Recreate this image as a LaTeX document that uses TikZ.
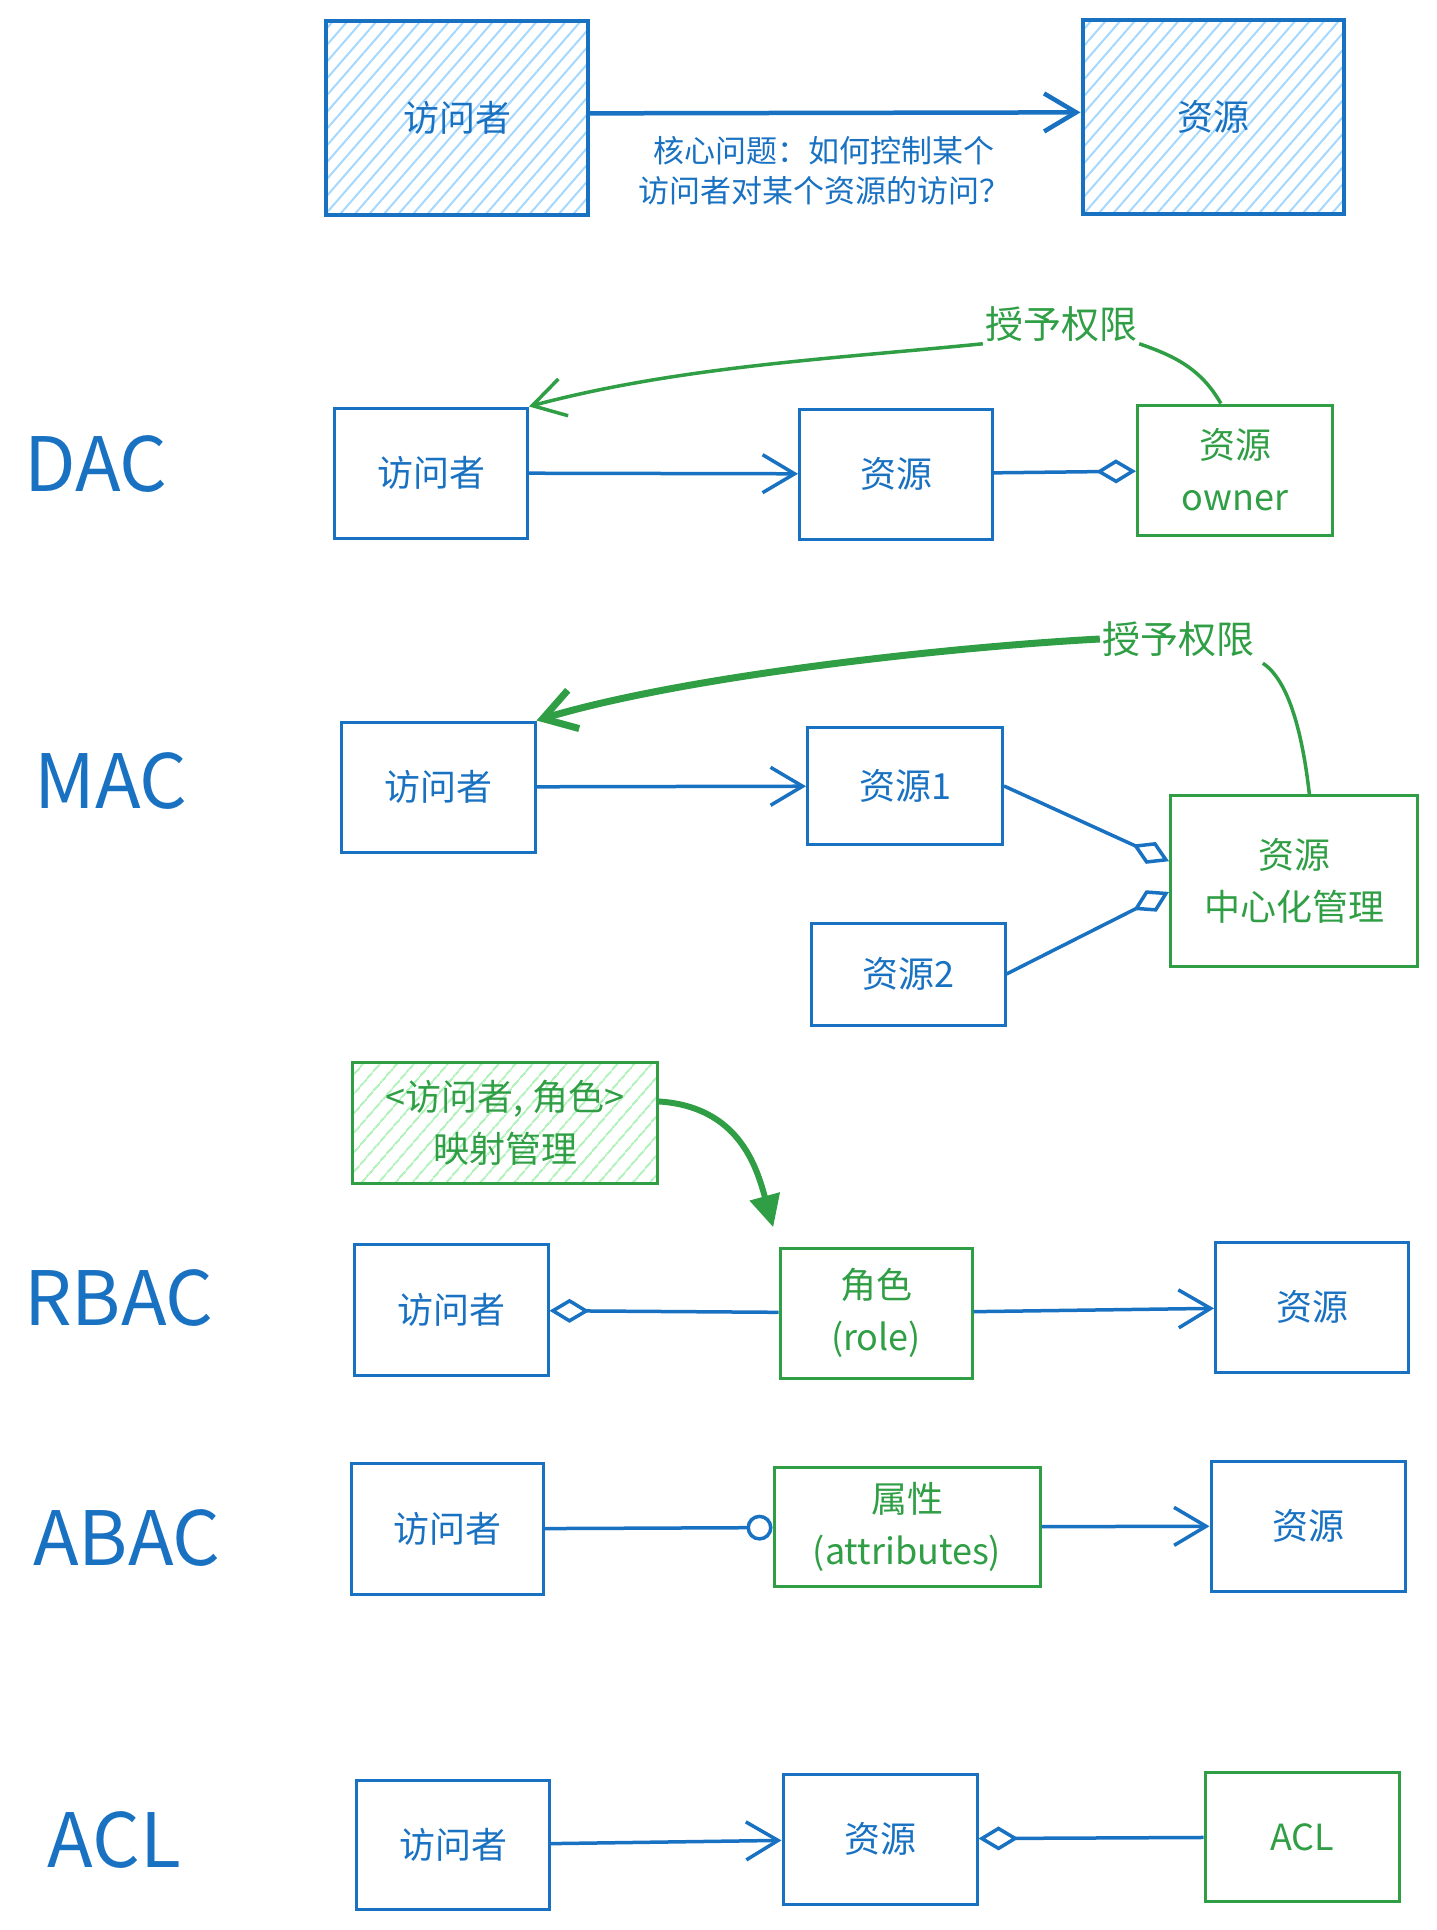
\documentclass[tikz,border=0pt]{standalone}
\usepackage{fontspec}
\setmainfont{Noto Sans CJK SC}
\usetikzlibrary{arrows.meta,patterns.meta}

\definecolor{acblue}{HTML}{1971C2}
\definecolor{acgreen}{HTML}{2F9E44}
\definecolor{hatchblue}{HTML}{A5D8FF}
\definecolor{hatchgreen}{HTML}{B2F2BB}

\begin{document}
\begin{tikzpicture}[x=1pt, y=-1pt,
    blubox/.style={draw=acblue, line width=3pt, text=acblue, minimum width=193pt, minimum height=130pt, align=center, font=\fontsize{36}{52}\selectfont},
    grnbox/.style={blubox, draw=acgreen, text=acgreen},
    bluhatch/.style={pattern={Lines[angle=49, distance=11pt, line width=2pt]}, pattern color=hatchblue},
    grnhatch/.style={pattern={Lines[angle=49, distance=13pt, line width=2pt]}, pattern color=hatchgreen},
    title/.style={text=acblue, font=\fontsize{75}{75}\selectfont},
    grant/.style={text=acgreen, font=\fontsize{38}{40}\selectfont, inner sep=2pt},
    link/.style={draw=acblue, line width=3.5pt},
    to res/.style={link, -{Straight Barb[length=32pt, width=38pt]}},
    owns/.style={link, -{Diamond[open, length=40pt, width=24pt]}},
    grant line/.style={draw=acgreen, line width=3.5pt}]
    \useasboundingbox (0,0) rectangle (1436,1930);

    \node[blubox, bluhatch, minimum width=262pt, minimum height=194pt, line width=4pt] (topAcc) at (457,118) {访问者};
    \node[blubox, bluhatch, minimum width=261pt, minimum height=194pt, line width=4pt] (topRes) at (1213,117) {资源};
    \node[text=acblue, align=center, font=\fontsize{31}{40}\selectfont] (topQ) at (824,171) {核心问题：如何控制某个\\访问者对某个资源的访问？};
    \draw[to res, line width=4.5pt] (topAcc.2) -- (topRes.178);

    \node[title] (dacTitle) at (96,464) {DAC};
    \node[blubox] (dacAcc) at (431,473) {访问者};
    \node[blubox] (dacRes) at (896,474) {资源};
    \node[grnbox, minimum width=195pt] (dacOwner) at (1235,470) {资源\\owner};
    \node[grant] (dacGrant) at (1061,324) {授予权限};
    \draw[to res] (dacAcc) -- (dacRes);
    \draw[owns] (dacRes) -- (dacOwner);
    \draw[grant line] (dacOwner.102) .. controls +(-20,-35) and +(35,12) .. (dacGrant.south east);
    \draw[grant line, -{Straight Barb[length=32pt, width=38pt]}] (dacGrant.south west) .. controls +(-150,15) and +(150,-40) .. (dacAcc.north east);

    \node[title] (macTitle) at (111,781) {MAC};
    \node[blubox, minimum width=194pt] (macAcc) at (438,787) {访问者};
    \node[blubox, minimum width=195pt, minimum height=117pt] (macResA) at (905,786) {资源1};
    \node[blubox, minimum width=194pt, minimum height=102pt] (macResB) at (908,974) {资源2};
    \node[grnbox, minimum width=247pt, minimum height=171pt] (macCenter) at (1294,881) {资源\\中心化管理};
    \node[grant] (macGrant) at (1178,639) {授予权限};
    \draw[to res] (macAcc) -- (macResA);
    \draw[owns] (macResA.east) -- (macCenter.171);
    \draw[owns] (macResB.east) -- (macCenter.185);
    \draw[grant line, line width=7pt, -{Straight Barb[length=32pt, width=40pt]}] (macGrant.west) .. controls +(-150,8) and +(150,-45) .. (macAcc.north east);
    \draw[grant line, shorten >=8pt] (macCenter.80) .. controls +(-8,-70) and +(30,20) .. (macGrant.south east);

    \node[grnbox, grnhatch, minimum width=305pt, minimum height=121pt] (rbMap) at (505,1123) {<访问者, 角色>\\映射管理};
    \node[title] (rbTitle) at (119,1298) {RBAC};
    \node[blubox, minimum width=194pt, minimum height=131pt] (rbAcc) at (451,1310) {访问者};
    \node[grnbox, minimum width=192pt] (rbRole) at (876,1313) {角色\\(role)};
    \node[blubox] (rbRes) at (1312,1307) {资源};
    \draw[link, {Diamond[open, length=40pt, width=24pt]}-] (rbAcc) -- (rbRole);
    \draw[to res] (rbRole) -- (rbRes);
    \draw[grant line, line width=6pt, shorten >=20pt, -{Triangle[length=32pt, width=30pt]}] (rbMap.8) .. controls +(80,5) and +(-22,-80) .. (rbRole.north west);

    \node[title] (abTitle) at (127,1538) {ABAC};
    \node[blubox, minimum width=192pt, minimum height=131pt] (abAcc) at (447,1529) {访问者};
    \node[grnbox, minimum width=266pt, minimum height=119pt] (abAttr) at (907,1527) {属性\\(attributes)};
    \node[blubox, minimum width=194pt] (abRes) at (1308,1526) {资源};
    \draw[link, -{Circle[open, length=26pt]}] (abAcc) -- (abAttr);
    \draw[to res] (abAttr) -- (abRes);

    \node[title] (aclTitle) at (114,1840) {ACL};
    \node[blubox, minimum height=129pt] (aclAcc) at (453,1845) {访问者};
    \node[blubox, minimum width=194pt] (aclRes) at (880,1839) {资源};
    \node[grnbox, minimum width=194pt, minimum height=129pt] (aclList) at (1302,1837) {ACL};
    \draw[to res] (aclAcc) -- (aclRes);
    \draw[link, {Diamond[open, length=40pt, width=24pt]}-] (aclRes) -- (aclList);
\end{tikzpicture}
\end{document}
